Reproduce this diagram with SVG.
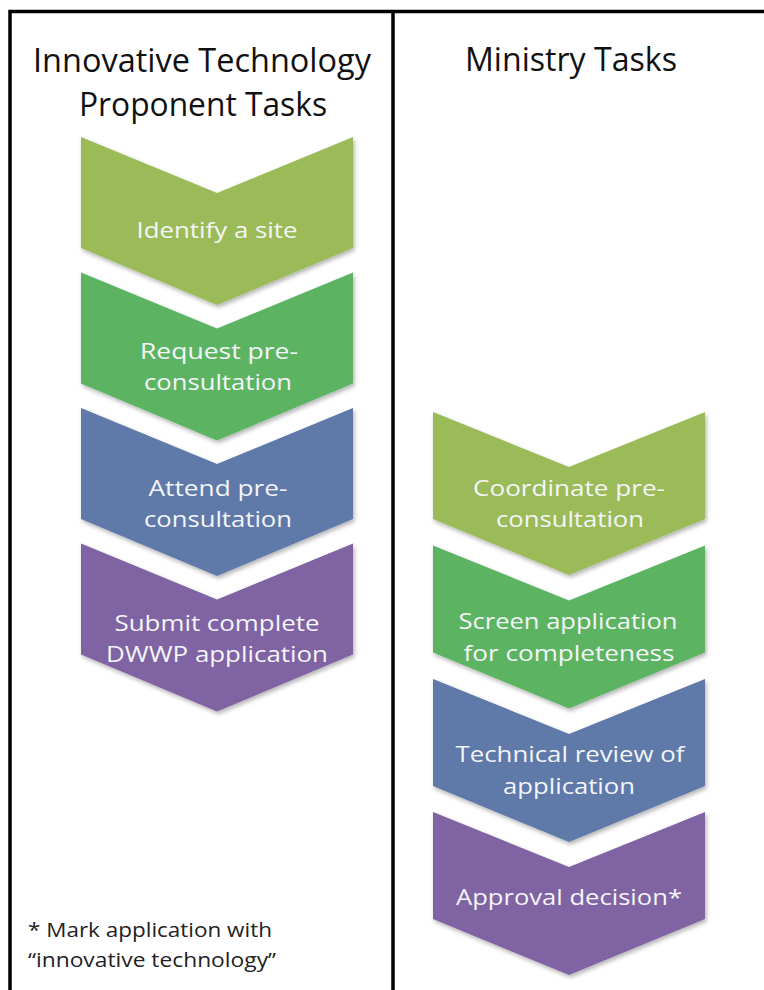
<svg xmlns="http://www.w3.org/2000/svg" width="764" height="990" viewBox="0 0 764 990">
<defs>
<style>
.frame{fill:none;stroke:#000;stroke-width:3.5}
.olive{fill:#9BBB59}
.green{fill:#5BB464}
.blue{fill:#5E79A9}
.purple{fill:#8064A2}
.lbl{font-family:"Open Sans","Liberation Sans",sans-serif;font-size:22px;fill:#F3F5F8;text-anchor:middle}
.title{font-family:"Open Sans","Liberation Sans",sans-serif;font-size:32px;fill:#111;text-anchor:middle}
.note{font-family:"Open Sans","Liberation Sans",sans-serif;font-size:20px;fill:#222}
</style>
<filter id="sh" x="-10%" y="-10%" width="125%" height="125%">
<feDropShadow dx="1.5" dy="2.5" stdDeviation="2" flood-color="#000" flood-opacity="0.3"/>
</filter>
<path id="chL" d="M0,0 L136,56 L272,0 L272,111 L136,168 L0,111 Z"/>
<path id="chR" d="M0,0 L136,55 L272,0 L272,107 L136,163 L0,107 Z"/>
</defs>
<rect width="764" height="990" fill="#fff"/>
<g id="frame">
<path class="frame" d="M10,990 V11.5 H766"/>
<line class="frame" x1="393" y1="11.5" x2="393" y2="990"/>
</g>
<g id="titles">
<text class="title" x="202" y="72" textLength="338" lengthAdjust="spacingAndGlyphs">Innovative Technology</text>
<text class="title" x="203" y="116" textLength="248" lengthAdjust="spacingAndGlyphs">Proponent Tasks</text>
<text class="title" x="571" y="71" textLength="212" lengthAdjust="spacingAndGlyphs">Ministry Tasks</text>
</g>
<g id="l1"><use href="#chL" x="81" y="137" class="olive" filter="url(#sh)"/>
<text class="lbl" x="217" y="238" textLength="161" lengthAdjust="spacingAndGlyphs">Identify a site</text></g>
<g id="l2"><use href="#chL" x="81" y="272.5" class="green" filter="url(#sh)"/>
<text class="lbl" x="219" y="359" textLength="158" lengthAdjust="spacingAndGlyphs">Request pre-</text>
<text class="lbl" x="218" y="390" textLength="148" lengthAdjust="spacingAndGlyphs">consultation</text></g>
<g id="l3"><use href="#chL" x="81" y="408" class="blue" filter="url(#sh)"/>
<text class="lbl" x="218" y="496" textLength="139" lengthAdjust="spacingAndGlyphs">Attend pre-</text>
<text class="lbl" x="218" y="527" textLength="148" lengthAdjust="spacingAndGlyphs">consultation</text></g>
<g id="l4"><use href="#chL" x="81" y="543.5" class="purple" filter="url(#sh)"/>
<text class="lbl" x="217" y="631" textLength="205" lengthAdjust="spacingAndGlyphs">Submit complete</text>
<text class="lbl" x="217" y="662" textLength="222" lengthAdjust="spacingAndGlyphs">DWWP application</text></g>
<g id="r1"><use href="#chR" x="433" y="412" class="olive" filter="url(#sh)"/>
<text class="lbl" x="569" y="496" textLength="192" lengthAdjust="spacingAndGlyphs">Coordinate pre-</text>
<text class="lbl" x="570" y="527" textLength="148" lengthAdjust="spacingAndGlyphs">consultation</text></g>
<g id="r2"><use href="#chR" x="433" y="545.5" class="green" filter="url(#sh)"/>
<text class="lbl" x="568" y="629" textLength="219" lengthAdjust="spacingAndGlyphs">Screen application</text>
<text class="lbl" x="569" y="661" textLength="211" lengthAdjust="spacingAndGlyphs">for completeness</text></g>
<g id="r3"><use href="#chR" x="433" y="679" class="blue" filter="url(#sh)"/>
<text class="lbl" x="570" y="762" textLength="229" lengthAdjust="spacingAndGlyphs">Technical review of</text>
<text class="lbl" x="569" y="794" textLength="132" lengthAdjust="spacingAndGlyphs">application</text></g>
<g id="r4"><use href="#chR" x="433" y="812" class="purple" filter="url(#sh)"/>
<text class="lbl" x="569" y="905" textLength="226" lengthAdjust="spacingAndGlyphs">Approval decision*</text></g>
<g id="footnote">
<text class="note" x="28" y="937" textLength="244" lengthAdjust="spacingAndGlyphs">* Mark application with</text>
<text class="note" x="28" y="967" textLength="248" lengthAdjust="spacingAndGlyphs">“innovative technology”</text>
</g>
</svg>
